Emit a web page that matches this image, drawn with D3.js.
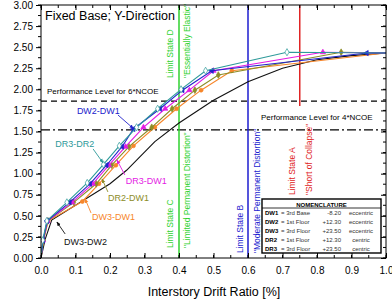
<!DOCTYPE html>
<html>
<head>
<meta charset="utf-8">
<script src="https://cdn.jsdelivr.net/npm/d3@7"></script>
<style>
  body { margin: 0; background: #fff; }
  svg { font-family: Arial, "Liberation Sans", sans-serif; display: block; }
</style>
</head>
<body>
<div id="chart"></div>
<script>
// pushover curves, drift ratio [%] vs normalized shear
const dr3dr2Drift = [0, 0.005, 0.017, 0.075, 0.134, 0.181, 0.227, 0.277, 0.338, 0.406, 0.477, 0.713, 1.0]
const dr3dr2Shear = [0, 0.21, 0.44, 0.66, 0.89, 1.11, 1.33, 1.55, 1.77, 2.0, 2.22, 2.44, 2.43]
const dw2dw1Drift = [0, 0.006, 0.018, 0.083, 0.142, 0.19, 0.235, 0.268, 0.345, 0.41, 0.495, 0.944, 1.0]
const dw2dw1Shear = [0, 0.21, 0.44, 0.66, 0.88, 1.1, 1.32, 1.53, 1.77, 1.99, 2.22, 2.43, 2.43]
const dr3dw1Drift = [0, 0.006, 0.019, 0.09, 0.15, 0.197, 0.245, 0.297, 0.36, 0.43, 0.5, 0.817, 1.0]
const dr3dw1Shear = [0, 0.21, 0.44, 0.66, 0.88, 1.1, 1.32, 1.55, 1.77, 1.99, 2.22, 2.44, 2.43]
const dr2dw1Drift = [0, 0.007, 0.02, 0.095, 0.16, 0.205, 0.255, 0.321, 0.38, 0.446, 0.514, 0.87, 1.0]
const dr2dw1Shear = [0, 0.21, 0.44, 0.66, 0.88, 1.1, 1.32, 1.55, 1.77, 1.99, 2.17, 2.44, 2.43]
const dw3dw1Drift = [0, 0.007, 0.021, 0.12, 0.168, 0.217, 0.268, 0.33, 0.393, 0.464, 0.553, 1.0]
const dw3dw1Shear = [0, 0.21, 0.44, 0.67, 0.88, 1.1, 1.33, 1.55, 1.77, 1.99, 2.22, 2.43]
const dw3dw2Drift = [0, 0.012, 0.031, 0.2, 0.248, 0.33, 0.4, 0.5, 0.6, 0.7, 0.8, 0.9, 1.0]
const dw3dw2Shear = [0, 0.22, 0.45, 0.88, 1.04, 1.38, 1.6, 1.87, 2.09, 2.25, 2.35, 2.4, 2.43]

const xTicks = [0, 0.1, 0.2, 0.3, 0.4, 0.5, 0.6, 0.7, 0.8, 0.9, 1.0]
const yTicks = [0, 0.25, 0.5, 0.75, 1.0, 1.25, 1.5, 1.75, 2.0, 2.25, 2.5, 2.75, 3.0]

const perfLevels = [1.86, 1.52]
const perfNames = ["Performance Level for 6*NCOE", "Performance Level for 4*NCOE"]
const limitDrifts = [0.4, 0.6, 0.75]

const nomenNames = ["DW1", "DW2", "DW3", "DR2", "DR3"]
const nomenLevels = ["= 3rd Base", "= 1st Floor", "= 3rd Floor", "= 1st Floor", "= 3rd Floor"]
const nomenOffsets = ["-8.20", "+12.30", "+23.50", "+12.30", "+23.50"]
const nomenTypes = ["eccentric", "eccentric", "eccentric", "centric", "centric"]

const W = 392, H = 301
const m = {left: 41, right: 386, top: 5, bottom: 258}

const svg = d3.select("#chart").append("svg")
    .attr("width", W)
    .attr("height", H)

const x = d3.scaleLinear().domain([0, 1]).range([m.left, m.right])
const y = d3.scaleLinear().domain([0, 3]).range([m.bottom, m.top])

svg.append("defs").append("clipPath").attr("id", "plotclip")
    .append("rect")
    .attr("x", m.left).attr("y", m.top)
    .attr("width", m.right - m.left).attr("height", m.bottom - m.top)

const green = "#2fd22f", blue = "#1c1ccf", red = "#e02424"

// horizontal performance levels
svg.append("line")
    .attr("x1", m.left).attr("x2", m.right)
    .attr("y1", y(perfLevels[0])).attr("y2", y(perfLevels[0]))
    .style("stroke", "#000").style("stroke-width", 1.3)
    .style("stroke-dasharray", "6,4")
svg.append("line")
    .attr("x1", m.left).attr("x2", m.right)
    .attr("y1", y(perfLevels[1])).attr("y2", y(perfLevels[1]))
    .style("stroke", "#000").style("stroke-width", 1.3)
    .style("stroke-dasharray", "9,3,2,3")
svg.append("text").attr("x", 47).attr("y", 93.5)
    .style("font-size", "8px").text(perfNames[0])
svg.append("text").attr("x", 261).attr("y", 120)
    .style("font-size", "8px").text(perfNames[1])

// limit state lines
svg.append("line").attr("x1", x(limitDrifts[0])).attr("x2", x(limitDrifts[0]))
    .attr("y1", m.top).attr("y2", m.bottom)
    .style("stroke", green).style("stroke-width", 1.5)
svg.append("line").attr("x1", x(limitDrifts[1])).attr("x2", x(limitDrifts[1]))
    .attr("y1", m.top).attr("y2", m.bottom)
    .style("stroke", blue).style("stroke-width", 1.5)
svg.append("line").attr("x1", x(limitDrifts[2])).attr("x2", x(limitDrifts[2]))
    .attr("y1", m.top).attr("y2", 106)
    .style("stroke", red).style("stroke-width", 1.5)

function vlabel(px, py, txt, col) {
    svg.append("text")
        .attr("transform", "translate(" + px + "," + py + ") rotate(-90)")
        .style("font-size", "8.5px")
        .style("fill", col)
        .text(txt)
}
vlabel(x(0.4) - 6, 78, "Limit State D", green)
vlabel(x(0.4) + 11, 78, "\"Essentially Elastic\"", green)
vlabel(x(0.4) - 6, 248, "Limit State C", green)
vlabel(x(0.4) + 11, 248, "\"Limited Permanent Distortion\"", green)
vlabel(x(0.6) - 5, 253, "Limit State B", blue)
vlabel(x(0.6) + 12, 253, "\"Moderate Permanent Distortion\"", blue)
vlabel(x(0.75) - 5, 195, "Limit State A", red)
vlabel(x(0.75) + 12, 195, "\"Short of Collapse\"", red)

// curves
const series = [
    {name: "DW3-DW2", xs: dw3dw2Drift, ys: dw3dw2Shear, color: "#111", marker: null},
    {name: "DW3-DW1", xs: dw3dw1Drift, ys: dw3dw1Shear, color: "#f7862a", marker: "circle"},
    {name: "DR2-DW1", xs: dr2dw1Drift, ys: dr2dw1Shear, color: "#8c8c26", marker: "diamond"},
    {name: "DR3-DW1", xs: dr3dw1Drift, ys: dr3dw1Shear, color: "#e31be3", marker: "triangle"},
    {name: "DW2-DW1", xs: dw2dw1Drift, ys: dw2dw1Shear, color: "#2222cc", marker: "tri-left"},
    {name: "DR3-DR2", xs: dr3dr2Drift, ys: dr3dr2Shear, color: "#2e9a9a", marker: "open-diamond"}
]

const line = d3.line().x(d => x(d[0])).y(d => y(d[1]))
const plot = svg.append("g").attr("clip-path", "url(#plotclip)")

series.forEach(s => {
    const pts = s.xs.map((v, i) => [v, s.ys[i]])
    plot.append("path")
        .attr("d", line(pts))
        .style("fill", "none")
        .style("stroke", s.color)
        .style("stroke-width", 1.1)
    if (!s.marker) return
    let sym = d3.symbolDiamond, size = 13, fill = s.color, rot = 0
    if (s.marker == "circle") { sym = d3.symbolCircle; size = 12 }
    if (s.marker == "triangle") { sym = d3.symbolTriangle; size = 12 }
    if (s.marker == "tri-left") { sym = d3.symbolTriangle; size = 12; rot = -90 }
    if (s.marker == "open-diamond") { fill = "#fff"; size = 15 }
    plot.append("g").selectAll("path")
        .data(pts.slice(1, -1)).enter()
        .append("path")
        .attr("d", d3.symbol().type(sym).size(size))
        .attr("transform", d => "translate(" + x(d[0]) + "," + y(d[1]) + ") rotate(" + rot + ")")
        .style("fill", fill)
        .style("stroke", s.color)
        .style("stroke-width", 0.7)
})

// curve labels with arrows
const defs = svg.select("defs")
series.forEach((s, i) => {
    defs.append("marker").attr("id", "arr" + i)
        .attr("viewBox", "0 0 10 10").attr("refX", 9).attr("refY", 5)
        .attr("markerWidth", 5).attr("markerHeight", 5).attr("orient", "auto")
        .append("path").attr("d", "M0,1L10,5L0,9z").style("fill", s.color)
})
const labelAt = {
    "DW2-DW1": [0.104, 1.708, 0.223, 1.696, 0.268, 1.535],
    "DR3-DR2": [0.041, 1.317, 0.151, 1.293, 0.18, 1.127],
    "DR3-DW1": [0.246, 0.878, 0.243, 0.985, 0.22, 1.163],
    "DR2-DW1": [0.194, 0.676, 0.194, 0.783, 0.177, 0.937],
    "DW3-DW1": [0.148, 0.451, 0.145, 0.534, 0.128, 0.70],
    "DW3-DW2": [0.067, 0.154, 0.07, 0.285, 0.046, 0.427]
}
series.forEach((s, i) => {
    const a = labelAt[s.name]
    svg.append("text").attr("x", x(a[0])).attr("y", y(a[1]))
        .style("font-size", "9px").style("fill", s.color).text(s.name)
    svg.append("line")
        .attr("x1", x(a[2])).attr("y1", y(a[3]))
        .attr("x2", x(a[4])).attr("y2", y(a[5]))
        .style("stroke", s.color).style("stroke-width", 0.9)
        .attr("marker-end", "url(#arr" + i + ")")
})

// nomenclature box
const box = svg.append("g")
box.append("rect").attr("x", 262).attr("y", 199).attr("width", 119).attr("height", 54)
    .style("fill", "#fff").style("stroke", "#000").style("stroke-width", 1.4)
box.append("line").attr("x1", 262).attr("x2", 381).attr("y1", 208).attr("y2", 208)
    .style("stroke", "#000").style("stroke-width", 0.8)
box.append("text").attr("x", 321.5).attr("y", 206.5).attr("text-anchor", "middle")
    .style("font-size", "6px").style("font-weight", "bold").text("NOMENCLATURE")
nomenNames.forEach((n, i) => {
    const by = 215 + 9 * i
    box.append("text").attr("x", 265).attr("y", by).style("font-size", "6px")
        .style("font-weight", "bold").text(n)
    box.append("text").attr("x", 281).attr("y", by).style("font-size", "6px")
        .style("fill", "#333").text(nomenLevels[i])
    box.append("text").attr("x", 341).attr("y", by).attr("text-anchor", "end")
        .style("font-size", "6px").style("fill", "#333").text(nomenOffsets[i])
    box.append("text").attr("x", 361).attr("y", by).attr("text-anchor", "middle")
        .style("font-size", "6px").style("fill", "#333").text(nomenTypes[i])
})

// frame and axes
svg.append("rect").attr("x", m.left).attr("y", m.top)
    .attr("width", m.right - m.left).attr("height", m.bottom - m.top)
    .style("fill", "none").style("stroke", "#000").style("stroke-width", 1)

const xMinor = d3.range(0, 1.001, 0.05)
const yMinor = d3.range(0, 3.001, 0.125)

const xb = svg.append("g").attr("transform", "translate(0," + m.bottom + ")")
    .call(d3.axisBottom(x).tickValues(xTicks).tickFormat(d3.format(".1f")).tickSizeInner(-5).tickSizeOuter(0))
xb.select(".domain").remove()
xb.selectAll("text").attr("y", 9).style("font-size", "10px").style("font-family", "Arial, 'Liberation Sans', sans-serif")
xb.append("g").selectAll("line").data(xMinor).enter().append("line")
    .attr("x1", d => x(d)).attr("x2", d => x(d)).attr("y1", 0).attr("y2", -3)
    .style("stroke", "#000")

const xt = svg.append("g").attr("transform", "translate(0," + m.top + ")")
    .call(d3.axisTop(x).tickValues(xTicks).tickFormat("").tickSizeInner(-5).tickSizeOuter(0))
xt.select(".domain").remove()
xt.append("g").selectAll("line").data(xMinor).enter().append("line")
    .attr("x1", d => x(d)).attr("x2", d => x(d)).attr("y1", 0).attr("y2", 3)
    .style("stroke", "#000")

const yl = svg.append("g").attr("transform", "translate(" + m.left + ",0)")
    .call(d3.axisLeft(y).tickValues(yTicks).tickFormat(d3.format(".2f")).tickSizeInner(5).tickSizeOuter(0))
yl.select(".domain").remove()
yl.selectAll("text").style("font-size", "10px").style("font-family", "Arial, 'Liberation Sans', sans-serif")
yl.append("g").selectAll("line").data(yMinor).enter().append("line")
    .attr("x1", 0).attr("x2", -3).attr("y1", d => y(d)).attr("y2", d => y(d))
    .style("stroke", "#000")

const yr = svg.append("g").attr("transform", "translate(" + m.right + ",0)")
    .call(d3.axisRight(y).tickValues(yTicks).tickFormat("").tickSizeInner(-5).tickSizeOuter(0))
yr.select(".domain").remove()
yr.append("g").selectAll("line").data(yMinor).enter().append("line")
    .attr("x1", 0).attr("x2", -3).attr("y1", d => y(d)).attr("y2", d => y(d))
    .style("stroke", "#000")

// titles
svg.append("text").attr("x", 45).attr("y", 20)
    .style("font-size", "12.5px").text("Fixed Base; Y-Direction")
svg.append("text").attr("x", 214).attr("y", 296).attr("text-anchor", "middle")
    .style("font-size", "12.5px").text("Interstory Drift Ratio [%]")
</script>
</body>
</html>
